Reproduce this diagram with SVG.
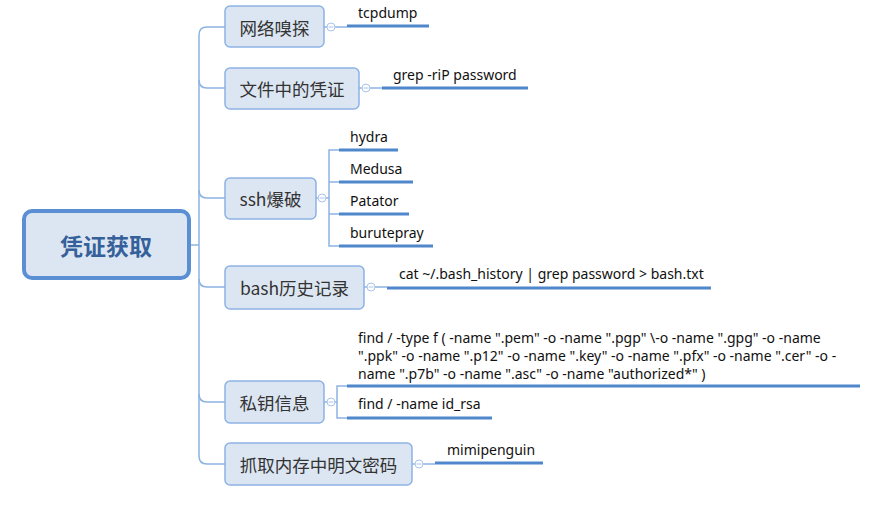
<svg xmlns="http://www.w3.org/2000/svg" width="896" height="516" viewBox="0 0 896 516">
<style>
.bx{fill:#dce6f2;stroke:#8db3e2;stroke-width:1.5}
.t{font-family:"Noto Sans CJK SC","Noto Sans",sans-serif;font-size:17.5px;fill:#333;text-anchor:middle;dominant-baseline:central}
.lf{font-family:"Noto Sans","Noto Sans CJK SC",sans-serif;font-size:14px;fill:#111}
.cn{fill:none;stroke:#8db3e2;stroke-width:1.5}
.th{stroke:#4f86cc;stroke-width:3;fill:none}
.cc{fill:#fff;stroke:#a9c4eb;stroke-width:1}
.cm{stroke:#a9c4eb;stroke-width:1}
</style>
<rect width="896" height="516" fill="#fff"/>
<g id="connectors">
<path class="cn" d="M191 245 H199"/>
<path class="cn" d="M225 27 H207 Q199 27 199 35 V456 Q199 464 207 464 H225"/>
<path class="cn" d="M199 80 Q199 88 207 88 H225"/>
<path class="cn" d="M199 190 Q199 198 207 198 H225"/>
<path class="cn" d="M199 279 Q199 287 207 287 H225"/>
<path class="cn" d="M199 394 Q199 402 207 402 H225"/>
<path class="cn" d="M324 27 H347"/>
<path class="cn" d="M359 88 H382"/>
<path class="cn" d="M316 198 H329 M339 150 H329 V246 H339 M329 182 H339 M329 214 H339"/>
<path class="cn" d="M364 287 H387"/>
<path class="cn" d="M324 402 H337 M347 386 H337 V418 H347"/>
<path class="cn" d="M412 464 H435"/>
</g>
<g id="root">
<rect x="24" y="211" width="165" height="67" rx="8" fill="#dce6f2" stroke="#5b8fd4" stroke-width="4"/>
<text x="106" y="245" font-family="Noto Sans CJK SC,sans-serif" font-size="23" font-weight="bold" fill="#35609a" text-anchor="middle" dominant-baseline="central">凭证获取</text>
</g>
<g id="n1">
<rect class="bx" x="225" y="6" width="99" height="41" rx="5"/>
<text class="t" x="274.5" y="27">网络嗅探</text>
<circle class="cc" cx="331" cy="27" r="4"/><path class="cm" d="M328.5 27 H333.5"/>
<path class="th" d="M347 26 H429"/>
<text class="lf" x="358" y="18">tcpdump</text>
</g>
<g id="n2">
<rect class="bx" x="225" y="68" width="134" height="41" rx="5"/>
<text class="t" x="292" y="88.5">文件中的凭证</text>
<circle class="cc" cx="366" cy="88" r="4"/><path class="cm" d="M363.5 88 H368.5"/>
<path class="th" d="M382 88 H528"/>
<text class="lf" x="393" y="80">grep -riP password</text>
</g>
<g id="n3">
<rect class="bx" x="225" y="178" width="91" height="41" rx="5"/>
<text class="t" x="270.5" y="198.5">ssh爆破</text>
<circle class="cc" cx="322" cy="198" r="4"/><path class="cm" d="M319.5 198 H324.5"/>
<path class="th" d="M339 150 H398 M339 182 H413 M339 214 H409 M339 246 H433"/>
<text class="lf" x="350" y="142">hydra</text>
<text class="lf" x="350" y="174">Medusa</text>
<text class="lf" x="350" y="206">Patator</text>
<text class="lf" x="350" y="238">burutepray</text>
</g>
<g id="n4">
<rect class="bx" x="225" y="266" width="139" height="43" rx="5"/>
<text class="t" x="294.5" y="287.5">bash历史记录</text>
<circle class="cc" cx="371" cy="287" r="4"/><path class="cm" d="M368.5 287 H373.5"/>
<path class="th" d="M387 288 H711"/>
<text class="lf" x="399" y="279">cat ~/.bash_history | grep password &gt; bash.txt</text>
</g>
<g id="n5">
<rect class="bx" x="225" y="381" width="99" height="42" rx="5"/>
<text class="t" x="274.5" y="402">私钥信息</text>
<circle class="cc" cx="331" cy="402" r="4"/><path class="cm" d="M328.5 402 H333.5"/>
<path class="th" d="M347 386 H860 M347 418 H492"/>
<text class="lf" x="358" y="343">find / -type f ( -name ".pem" -o -name ".pgp" \-o -name ".gpg" -o -name</text>
<text class="lf" x="358" y="361">".ppk" -o -name ".p12" -o -name ".key" -o -name ".pfx" -o -name ".cer" -o -</text>
<text class="lf" x="358" y="379">name ".p7b" -o -name ".asc" -o -name "authorized*" )</text>
<text class="lf" x="358" y="409">find / -name id_rsa</text>
</g>
<g id="n6">
<rect class="bx" x="225" y="443" width="187" height="42" rx="5"/>
<text class="t" x="318.5" y="464">抓取内存中明文密码</text>
<circle class="cc" cx="419" cy="464" r="4"/><path class="cm" d="M416.5 464 H421.5"/>
<path class="th" d="M435 463 H543"/>
<text class="lf" x="447" y="455">mimipenguin</text>
</g>
</svg>
